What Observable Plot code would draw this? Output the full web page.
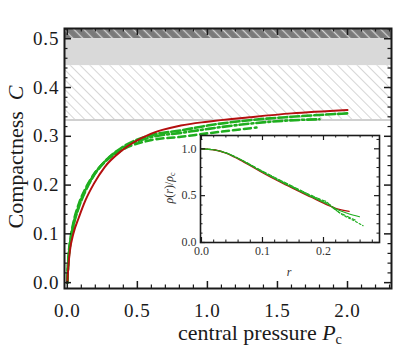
<!DOCTYPE html>
<html><head><meta charset="utf-8">
<script src="https://cdn.jsdelivr.net/npm/d3@7"></script>
<script src="https://cdn.jsdelivr.net/npm/@observablehq/plot@0.6"></script>
<style>
body{margin:0;background:#fff;}
#wrap{position:relative;width:395px;height:353px;font-family:"Liberation Serif","DejaVu Serif",serif;color:#111;overflow:hidden;}
#wrap svg{position:absolute;overflow:visible;}
#wrap svg, #wrap svg text{font-family:"Liberation Serif","DejaVu Serif",serif !important;}
#main text{letter-spacing:0.05em;}
.lbl{position:absolute;white-space:nowrap;font-family:"Liberation Serif","DejaVu Serif",serif;line-height:1;}
.lbl sub{font-size:65%;vertical-align:-0.25em;}
</style></head><body><div id="wrap"></div>
<script>
// ---------- data ----------
// main panel: compactness C vs central pressure P_c
const redP = [0,0.003,0.008,0.019,0.043,0.083,0.13,0.19,0.267,0.39,0.595,0.81,1.0,1.3,1.6,2.0];
const redC = [0,0.014,0.035,0.066,0.1,0.134,0.169,0.203,0.237,0.271,0.305,0.322,0.330,0.339,0.347,0.354];
const g1P = [0,0.003,0.008,0.019,0.043,0.083,0.13,0.19,0.267,0.39,0.595,0.81,1.0,1.3,1.6,2.0];
const g1C = [0,0.02,0.045,0.075,0.115,0.155,0.188,0.22,0.248,0.277,0.302,0.312,0.322,0.333,0.34,0.347];
const g2P = [0,0.003,0.008,0.019,0.043,0.083,0.13,0.19,0.267,0.39,0.595,0.81,1.0,1.3,1.55,1.8];
const g2C = [0,0.022,0.048,0.078,0.118,0.158,0.19,0.221,0.248,0.275,0.298,0.307,0.315,0.326,0.332,0.335];
const g3P = [0,0.003,0.008,0.019,0.043,0.083,0.13,0.19,0.267,0.39,0.595,0.81,1.0,1.2,1.35];
const g3C = [0,0.025,0.052,0.082,0.122,0.162,0.193,0.222,0.247,0.272,0.292,0.299,0.306,0.313,0.318];
// shaded limits (C = 1/3, 4/9, 1/2)
const bandEdges = [1/3, 4/9, 0.5];
// main ticks
const xMajor = [0,0.5,1.0,1.5,2.0];
const xMinor = [0.1,0.2,0.3,0.4,0.6,0.7,0.8,0.9,1.1,1.2,1.3,1.4,1.6,1.7,1.8,1.9,2.1,2.2,2.3];
const yMajor = [0,0.1,0.2,0.3,0.4,0.5];
const yMinor = [0.02,0.04,0.06,0.08,0.12,0.14,0.16,0.18,0.22,0.24,0.26,0.28,0.32,0.34,0.36,0.38,0.42,0.44,0.46,0.48,0.52];
// inset: density profile rho(r)/rho_c
const inRedR = [0,0.02,0.04,0.06,0.08,0.10,0.12,0.14,0.16,0.18,0.20,0.21,0.22,0.242];
const inRedV = [1.0,0.99,0.955,0.893,0.82,0.745,0.675,0.61,0.545,0.483,0.42,0.39,0.365,0.332];
const inGaR = [0,0.02,0.04,0.06,0.08,0.10,0.12,0.14,0.16,0.18,0.20,0.21,0.22,0.24,0.259];
const inGaV = [1.0,0.99,0.956,0.896,0.826,0.752,0.683,0.618,0.553,0.49,0.43,0.398,0.36,0.31,0.275];
const inGbR = [0,0.02,0.04,0.06,0.08,0.10,0.12,0.14,0.16,0.18,0.20,0.205,0.212,0.22,0.235,0.252];
const inGbV = [1.0,0.99,0.957,0.9,0.832,0.762,0.695,0.63,0.566,0.503,0.448,0.435,0.39,0.345,0.29,0.24];
const inGcR = [0,0.02,0.04,0.06,0.08,0.10,0.12,0.14,0.16,0.18,0.20,0.21,0.22,0.23,0.245,0.265];
const inGcV = [1.0,0.99,0.957,0.899,0.83,0.758,0.69,0.625,0.56,0.498,0.44,0.405,0.35,0.3,0.25,0.179];
const inXMajor = [0,0.1,0.2];
const inXMinor = [0.02,0.04,0.06,0.08,0.12,0.14,0.16,0.18,0.22,0.24,0.26,0.28];
const inYMajor = [0,0.5,1.0];
const inYMinor = [0.1,0.2,0.3,0.4,0.6,0.7,0.8,0.9,1.1];

const zip = (xs, ys) => xs.map((x, i) => ({x, y: ys[i]}));
const GREEN = "#1fae1f", RED = "#b40f0f", INK = "#1a1a1a";
const SERIF = "Liberation Serif, DejaVu Serif, serif";

// ---------- main plot ----------
const W = 395, H = 353, mL = 64, mR = 4, mT = 28, mB = 65;
const xDom = [-0.02, 2.314], yDom = [-0.012, 0.521];
const pxX = (xDom[1]-xDom[0])/(W-mL-mR), pxY = (yDom[1]-yDom[0])/(H-mT-mB);

function frameTicks(xs, ys, lenX, lenY, xD, yD, pX, pY, sw) {
  return [
    Plot.ruleX(xs, {x: d => d, y1: yD[0], y2: yD[0] + lenX*pY, stroke: INK, strokeWidth: sw}),
    Plot.ruleX(xs, {x: d => d, y1: yD[1], y2: yD[1] - lenX*pY, stroke: INK, strokeWidth: sw}),
    Plot.ruleY(ys, {y: d => d, x1: xD[0], x2: xD[0] + lenY*pX, stroke: INK, strokeWidth: sw}),
    Plot.ruleY(ys, {y: d => d, x1: xD[1], x2: xD[1] - lenY*pX, stroke: INK, strokeWidth: sw})
  ];
}

const band = (lo, hi) => [{lo, hi}];
const main = Plot.plot({
  width: W, height: H, marginLeft: mL, marginRight: mR, marginTop: mT, marginBottom: mB,
  style: {fontFamily: SERIF, fontSize: "19px", color: INK, background: "transparent"},
  x: {domain: xDom},
  y: {domain: yDom},
  marks: [
    Plot.rect(band(bandEdges[2], yDom[1]), {x1: () => xDom[0], x2: () => xDom[1], y1: "lo", y2: "hi", fill: "url(#hatchDark)"}),
    Plot.rect(band(bandEdges[1], bandEdges[2]), {x1: () => xDom[0], x2: () => xDom[1], y1: "lo", y2: "hi", fill: "#d9d9d9"}),
    Plot.rect(band(bandEdges[0], bandEdges[1]), {x1: () => xDom[0], x2: () => xDom[1], y1: "lo", y2: "hi", fill: "url(#hatchLight)"}),
    Plot.ruleY([bandEdges[0]], {stroke: "#d0d0d0", strokeWidth: 2}),
    Plot.line(zip(g3P, g3C), {x: "x", y: "y", stroke: GREEN, strokeWidth: 2.6, strokeDasharray: "7,4", curve: "monotone-x"}),
    Plot.line(zip(g2P, g2C), {x: "x", y: "y", stroke: GREEN, strokeWidth: 2.6, strokeDasharray: "9,3,2,3", curve: "monotone-x"}),
    Plot.line(zip(g1P, g1C), {x: "x", y: "y", stroke: GREEN, strokeWidth: 2.6, strokeDasharray: "9,3", curve: "monotone-x"}),
    Plot.line(zip(redP, redC), {x: "x", y: "y", stroke: RED, strokeWidth: 2, curve: "monotone-x"}),
    ...frameTicks(xMajor, yMajor, 7, 7, xDom, yDom, pxX, pxY, 1.5),
    ...frameTicks(xMinor, yMinor, 3.5, 3.5, xDom, yDom, pxX, pxY, 1.2),
    Plot.frame({stroke: INK, strokeWidth: 2}),
    Plot.axisX(xMajor, {anchor: "bottom", tickSize: 0, tickPadding: 15, tickFormat: d => d.toFixed(1), fontSize: 19, fontFamily: SERIF, label: null}),
    Plot.axisY(yMajor, {anchor: "left", tickSize: 0, tickPadding: 5, tickFormat: d => d.toFixed(1), fontSize: 19, fontFamily: SERIF, label: null})
  ]
});
main.id = "main";
main.style.left = "0px"; main.style.top = "0px";

// hatch patterns
const defs = d3.select(main).insert("defs", ":first-child");
function hatch(id, bg, fg, sw, gap) {
  const p = defs.append("pattern").attr("id", id).attr("patternUnits", "userSpaceOnUse")
    .attr("width", gap).attr("height", gap).attr("patternTransform", "rotate(-45)");
  p.append("rect").attr("width", gap).attr("height", gap).attr("fill", bg);
  p.append("line").attr("x1", gap/2).attr("y1", 0).attr("x2", gap/2).attr("y2", gap).attr("stroke", fg).attr("stroke-width", sw);
}
hatch("hatchLight", "#ffffff", "#d6d6d6", 1, 7);
hatch("hatchDark", "#7a7a7a", "#d4d4d4", 1.3, 7);

// ---------- inset ----------
const iW = 235, iH = 160, iL = 50, iR = 6, iT = 10, iB = 43;
const ixDom = [-0.0016, 0.2918], iyDom = [0, 1.142];
const ipxX = (ixDom[1]-ixDom[0])/(iW-iL-iR), ipxY = (iyDom[1]-iyDom[0])/(iH-iT-iB);
const inset = Plot.plot({
  width: iW, height: iH, marginLeft: iL, marginRight: iR, marginTop: iT, marginBottom: iB,
  style: {fontFamily: SERIF, fontSize: "12px", color: "#333", background: "transparent"},
  x: {domain: ixDom},
  y: {domain: iyDom},
  marks: [
    Plot.frame({fill: "#fff"}),
    Plot.line(zip(inGcR, inGcV), {x: "x", y: "y", stroke: GREEN, strokeWidth: 1.1, strokeDasharray: "2,2", curve: "monotone-x"}),
    Plot.line(zip(inGbR, inGbV), {x: "x", y: "y", stroke: GREEN, strokeWidth: 1.1, strokeDasharray: "4,2", curve: "monotone-x"}),
    Plot.line(zip(inRedR, inRedV), {x: "x", y: "y", stroke: RED, strokeWidth: 1.3, curve: "monotone-x"}),
    Plot.line(zip(inGaR, inGaV), {x: "x", y: "y", stroke: GREEN, strokeWidth: 1.2, curve: "monotone-x"}),
    ...frameTicks(inXMajor, inYMajor, 5, 5, ixDom, iyDom, ipxX, ipxY, 1.2),
    ...frameTicks(inXMinor, inYMinor, 2.5, 2.5, ixDom, iyDom, ipxX, ipxY, 1),
    Plot.frame({stroke: INK, strokeWidth: 1.6}),
    Plot.axisX(inXMajor, {anchor: "bottom", tickSize: 0, tickPadding: 4, tickFormat: d => d.toFixed(1), fontSize: 12, fontFamily: SERIF, label: null}),
    Plot.axisY(inYMajor, {anchor: "left", tickSize: 0, tickPadding: 4, tickFormat: d => d.toFixed(1), fontSize: 12, fontFamily: SERIF, label: null})
  ]
});
inset.style.left = "150px"; inset.style.top = "125px";

const wrap = document.getElementById("wrap");
wrap.appendChild(main);
wrap.appendChild(inset);

function addLabel(html, x, y, size, rot, color, anchorLeft) {
  const d = document.createElement("div");
  d.className = "lbl";
  d.innerHTML = html;
  d.style.fontSize = size + "px";
  d.style.color = color || INK;
  d.style.left = x + "px"; d.style.top = y + "px";
  d.style.transform = (anchorLeft ? "translate(0,-50%)" : "translate(-50%,-50%)") + (rot ? ` rotate(${rot}deg)` : "");
  wrap.appendChild(d);
}
addLabel("Compactness&nbsp; <i>C</i>", 16, 157, 22, -90);
addLabel("central pressure <i>P</i><sub>c</sub>", 178, 334, 22, 0, INK, true);
addLabel("<i>ρ</i>(<i>r</i>)/<i>ρ</i><sub>c</sub>", 170, 188, 12, -90, "#333");
addLabel("<i>r</i>", 289, 272, 12, 0, "#333");
</script></body></html>
